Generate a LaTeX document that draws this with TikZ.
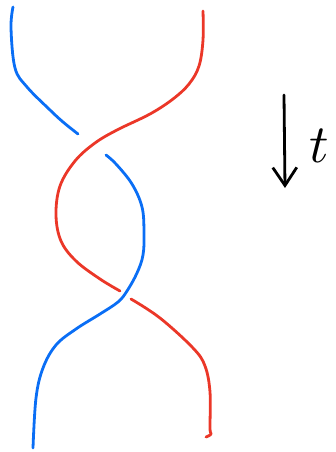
\documentclass[tikz,border=0pt]{standalone}
\usetikzlibrary{arrows.meta}
\definecolor{strandblue}{RGB}{10,110,245}
\definecolor{strandred}{RGB}{235,55,40}
\tikzset{
  strand/.style={line width=2.8pt, line cap=round, line join=round},
  bluestrand/.style={strand, draw=strandblue},
  redstrand/.style={strand, draw=strandred},
  timearrow/.style={line width=2.8pt, line cap=round, -{Straight Barb[length=18pt,width=24pt,line width=2.8pt]}}
}
\begin{document}
\begin{tikzpicture}[x=1pt,y=-1pt]
\useasboundingbox (0,0) rectangle (335,452);
% blue strand, upper piece
\draw[bluestrand] plot[smooth, tension=0.6] coordinates {(13,7) (11,28) (15,68) (27,87) (50,110) (63,122) (78,134)};
% blue strand, lower piece (over the red at the bottom crossing)
\draw[bluestrand] plot[smooth, tension=0.6] coordinates {(106,155) (116,164) (132,184) (142,207) (144,232) (143,255) (137,273) (127,291) (118,302) (100,314) (76,329) (56,345) (43,368) (36,398) (33,448)};
% red strand, upper piece (over the blue at the top crossing)
\draw[redstrand] plot[smooth, tension=0.6] coordinates {(203,11) (203,40) (199,66) (189,84) (173,99) (150,114) (117,130) (95,143) (75,161) (60,186) (56,215) (61,241) (76,261) (100,279) (120,291)};
% red strand, lower piece
\draw[redstrand] plot[smooth, tension=0.6] coordinates {(131,299) (160,318) (193,348) (205,366) (210,392) (210,428) (211,434) (206,437)};
% time arrow
\coordinate (tstart) at (284,95);
\coordinate (tend) at (285,188);
\draw[timearrow] (tstart) -- (tend);
\node[scale=5.4, inner sep=0pt] (tlabel) at (319,146) {$t$};
\end{tikzpicture}
\end{document}
